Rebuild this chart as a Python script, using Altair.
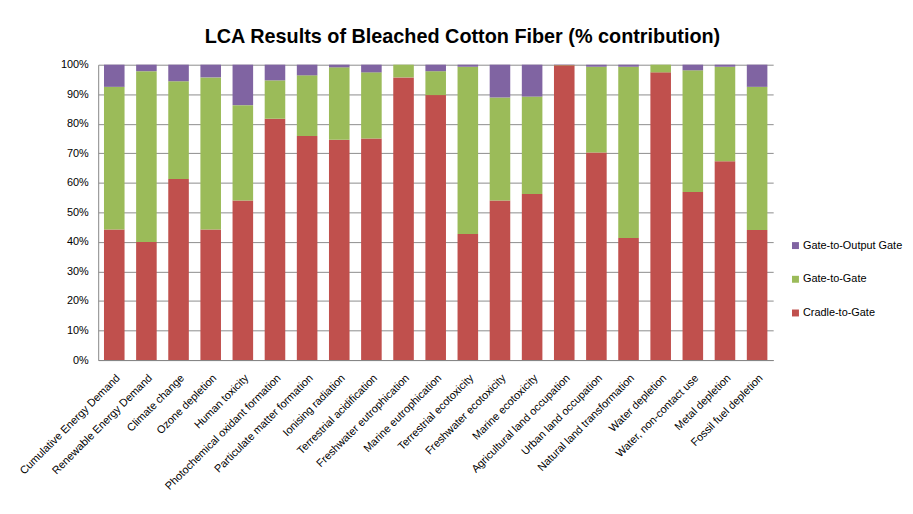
import altair as alt
import pandas as pd

categories = [
    "Cumulative Energy Demand", "Renewable Energy Demand", "Climate change",
    "Ozone depletion", "Human toxicity", "Photochemical oxidant formation",
    "Particulate matter formation", "Ionising radiation", "Terrestrial acidification",
    "Freshwater eutrophication", "Marine eutrophication", "Terrestrial ecotoxicity",
    "Freshwater ecotoxicity", "Marine ecotoxicity", "Agricultural land occupation",
    "Urban land occupation", "Natural land transformation", "Water depletion",
    "Water, non-contact use", "Metal depletion", "Fossil fuel depletion",
]
series = ["Cradle-to-Gate", "Gate-to-Gate", "Gate-to-Output Gate"]
cradle_to_gate = [44.2, 40.0, 61.3, 44.2, 54.0, 81.7, 75.9, 74.6, 75.0, 95.7, 89.7,
                  42.7, 54.0, 56.2, 99.8, 70.3, 41.3, 97.4, 56.9, 67.3, 44.0]
gate_to_gate = [48.3, 57.8, 33.1, 51.5, 32.3, 13.0, 20.5, 24.5, 22.4, 4.3, 8.1,
                56.6, 34.9, 33.0, 0.1, 29.0, 58.0, 2.6, 41.2, 32.0, 48.5]
gate_to_output = [7.5, 2.2, 5.6, 4.3, 13.7, 5.3, 3.6, 0.9, 2.6, 0.0, 2.2,
                  0.7, 11.1, 10.8, 0.1, 0.7, 0.7, 0.0, 1.9, 0.7, 7.5]
colors = ["#C0504D", "#9BBB59", "#8064A2"]

rows = []
for i, c in enumerate(categories):
    for k, (s, vals) in enumerate(zip(series, [cradle_to_gate, gate_to_gate, gate_to_output])):
        rows.append({"Category": c, "Series": s, "Value": vals[i], "Order": k})
df = pd.DataFrame(rows)

font = "Liberation Sans"

chart = alt.Chart(df).mark_bar().encode(
    x=alt.X("Category:N", sort=categories,
            scale=alt.Scale(paddingInner=0.36, paddingOuter=0.18),
            axis=alt.Axis(title=None, labelAngle=-45, labelFontSize=11, labelFont=font,
                          labelColor="#000000", ticks=False, labelPadding=12,
                          domainColor="#868686", labelLimit=300)),
    y=alt.Y("Value:Q", stack="zero", scale=alt.Scale(domain=[0, 100]),
            axis=alt.Axis(title=None, values=list(range(0, 101, 10)),
                          labelExpr="datum.value + '%'", labelFontSize=11, labelFont=font,
                          labelColor="#000000", ticks=False, labelPadding=10,
                          domainColor="#868686", gridColor="#8C8C8C", gridWidth=1)),
    color=alt.Color("Series:N",
                    scale=alt.Scale(domain=list(reversed(series)), range=list(reversed(colors))),
                    legend=alt.Legend(title=None, orient="none", legendX=698, legendY=177,
                                      symbolType="square", symbolSize=49, symbolStrokeWidth=0,
                                      labelFontSize=11, labelFont=font, labelColor="#000000",
                                      rowPadding=22, labelOffset=2)),
    order=alt.Order("Order:Q", sort="ascending"),
).properties(
    width=681,
    height=298,
    padding={"left": 91, "top": 55, "right": 133, "bottom": 140},
    autosize=alt.AutoSizeParams(type="none"),
    title=alt.TitleParams("LCA Results of Bleached Cotton Fiber (% contribution)",
                          font=font, fontSize=20, fontWeight="bold", color="#000000",
                          anchor="middle", dx=27, offset=12),
).configure_view(stroke=None)

chart.save("out.html", embed_options={"renderer": "svg", "actions": False})
